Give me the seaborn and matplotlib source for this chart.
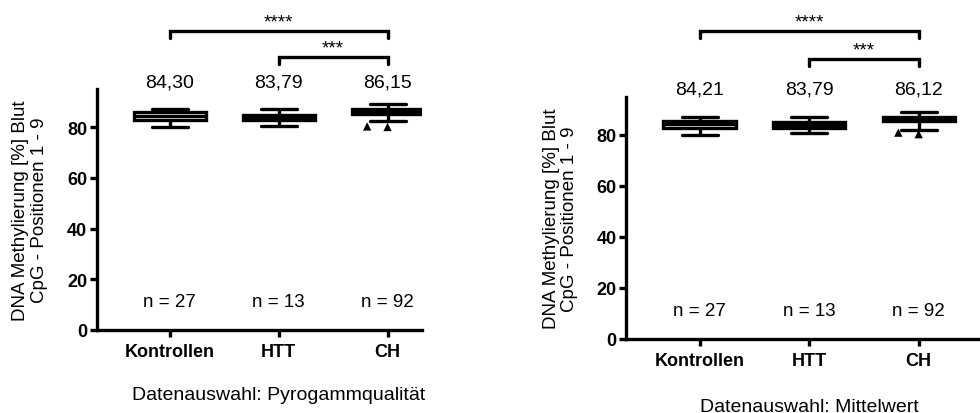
import matplotlib
matplotlib.use("Agg")
import matplotlib.pyplot as plt
import pandas as pd
import seaborn as sns

# Gruppen und Fallzahlen
groups = ["Kontrollen", "HTT", "CH"]
group_sizes = [27, 13, 92]

# Datenauswahl: Pyrogammqualität (Whisker unten, Q1, Median, Q3, Whisker oben)
pyro_low = [80.1, 80.6, 82.6]
pyro_q1 = [83.0, 83.0, 85.3]
pyro_median = [84.30, 83.79, 86.15]
pyro_q3 = [86.0, 85.0, 87.2]
pyro_high = [87.2, 87.2, 89.2]
pyro_outliers_ch = [80.1, 80.3]

# Datenauswahl: Mittelwert
mean_low = [80.1, 80.8, 81.8]
mean_q1 = [82.9, 82.7, 85.3]
mean_median = [84.21, 83.79, 86.12]
mean_q3 = [85.4, 85.0, 87.0]
mean_high = [87.2, 86.9, 89.1]
mean_outliers_ch = [80.3, 80.9]

ytick_values = [0, 20, 40, 60, 80]
panel_titles = ["Datenauswahl: Pyrogammqualität", "Datenauswahl: Mittelwert"]
ylabel_text = "DNA Methylierung [%] Blut\nCpG - Positionen 1 - 9"
# Signifikanzklammern: (von, bis, Sterne)
comparisons = [("Kontrollen", "CH", "****"), ("HTT", "CH", "***")]

sns.set_theme(style="ticks")
plt.rcParams["font.family"] = ["Liberation Sans", "DejaVu Sans"]
plt.rcParams["text.color"] = "black"
plt.rcParams["axes.labelcolor"] = "black"
plt.rcParams["xtick.color"] = "black"
plt.rcParams["ytick.color"] = "black"

LW = 2.4

fig = plt.figure(figsize=(9.8, 4.14), dpi=100)
ax_left = fig.add_axes([0.099, 0.201, 0.332, 0.581])
ax_right = fig.add_axes([0.639, 0.179, 0.361, 0.585])


def long_table(low, q1, med, q3, high):
    rows = []
    for g, a, b, c, d, e in zip(groups, low, q1, med, q3, high):
        for v in (a, b, c, d, e):
            rows.append({"Gruppe": g, "Wert": v})
    return pd.DataFrame(rows)


def draw_panel(ax, low, q1, med, q3, high, outliers, title,
               bracket_y, xlim_right, ylabel_x, title_y):
    box_df = long_table(low, q1, med, q3, high)
    sns.boxplot(data=box_df, x="Gruppe", y="Wert", order=groups,
                whis=(0, 100), width=0.66, color="white", linecolor="black",
                linewidth=LW, fliersize=0, ax=ax)

    out_df = pd.DataFrame({"Gruppe": ["CH"] * len(outliers), "Wert": outliers})
    sns.swarmplot(data=out_df, x="Gruppe", y="Wert", order=groups,
                  marker="^", color="black", size=6, ax=ax)
    # an invisible edge widens the swarm spacing between neighbouring triangles
    swarm = ax.collections[-1]
    swarm.set_linewidth(8)
    swarm.set_edgecolor("none")

    ax.set_ylim(0, 95)
    ax.set_xlim(-0.67, xlim_right)
    ax.set_yticks(ytick_values)
    ax.set_xlabel("")
    ax.set_ylabel(ylabel_text, fontsize=13.5, linespacing=1.1, color="black")
    ax.yaxis.set_label_coords(ylabel_x, 0.5)

    sns.despine(ax=ax)
    for side in ("left", "bottom"):
        ax.spines[side].set_linewidth(LW)
        ax.spines[side].set_color("black")
    ax.tick_params(axis="both", width=LW, length=5, color="black",
                   labelsize=13, labelcolor="black")
    ax.tick_params(axis="y", pad=2)
    ax.tick_params(axis="x", pad=4.5)
    for lbl in ax.get_xticklabels() + ax.get_yticklabels():
        lbl.set_fontweight("bold")

    # Mittelwerte über den Boxen und Fallzahlen darunter
    for i, (m, n) in enumerate(zip(med, group_sizes)):
        ax.text(i, 96.2, f"{m:.2f}".replace(".", ","), ha="center",
                va="baseline", fontsize=14, color="black", clip_on=False)
        ax.text(i, 9.4, f"n = {n}", ha="center", va="baseline",
                fontsize=13.5, color="black")

    # Signifikanzklammern
    for (g_from, g_to, stars), y in zip(comparisons, bracket_y):
        x0, x1 = groups.index(g_from), groups.index(g_to)
        ax.plot([x0, x0, x1, x1], [y - 2.8, y, y, y - 2.8], color="black",
                lw=LW, clip_on=False, solid_joinstyle="miter")
        ax.text((x0 + x1) / 2, y + 1.6, stars, ha="center", va="baseline",
                fontsize=13.5, color="black", clip_on=False)

    ax.text(1, title_y, title, ha="center", va="baseline", fontsize=14,
            color="black", clip_on=False)


draw_panel(ax_left, pyro_low, pyro_q1, pyro_median, pyro_q3, pyro_high,
           pyro_outliers_ch, panel_titles[0], bracket_y=[118.0, 107.8],
           xlim_right=2.32, ylabel_x=-0.152, title_y=-27.4)
draw_panel(ax_right, mean_low, mean_q1, mean_median, mean_q3, mean_high,
           mean_outliers_ch, panel_titles[1], bracket_y=[120.8, 109.8],
           xlim_right=2.56, ylabel_x=-0.135, title_y=-28.2)

fig.savefig("out.png", dpi=100)
